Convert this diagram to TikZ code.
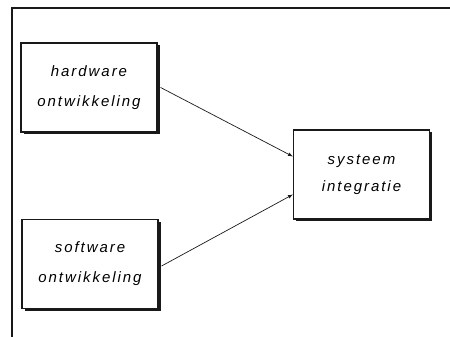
\documentclass[tikz,border=0pt]{standalone}
\usepackage{fontspec}
\usepackage{tikz}
\usetikzlibrary{arrows}
\usetikzlibrary{shadows}
\usetikzlibrary{positioning}
\newfontfamily\blokfont[LetterSpace=13]{Liberation Sans}
\definecolor{inkt}{rgb}{0.1, 0.1, 0.1}

\tikzset{
  blok/.style={draw=inkt, line width=1.2pt, fill=white, minimum width=136pt,
    minimum height=89pt, align=center,
    font=\blokfont\itshape\fontsize{15}{30}\selectfont,
    drop shadow={fill=inkt, opacity=1, shadow xshift=2.5pt, shadow yshift=-2.5pt}},
  pijl/.style={-latex, draw=inkt, line width=0.7pt}
}

\begin{document}
\begin{tikzpicture}[x=1pt, y=1pt]
      \useasboundingbox (0, 0) rectangle (450, 337);
      % kader
      \coordinate (kl) at (12, 0);
      \coordinate (kh) at (12, 329);
      \coordinate (kr) at (450, 329);
      \draw [inkt, line width=1.3pt] (kl) -- (kh) -- (kr);
      % blokken
      \node [blok] (hw) at (89, 249.5) {hardware\\ontwikkeling};
      \node [blok] (sw) at (90, 73) {software\\ontwikkeling};
      \node [blok, font=\blokfont\itshape\fontsize{15}{27}\selectfont] (si) at (361.5, 162.5) {systeem\\integratie};
      % pijlen
      \draw [pijl] ([xshift=3pt]hw.east) -- ([yshift=18pt]si.west);
      \draw [pijl] ([xshift=3pt, yshift=-2pt]sw.east) -- ([yshift=-20pt]si.west);
    \end{tikzpicture}
\end{document}
